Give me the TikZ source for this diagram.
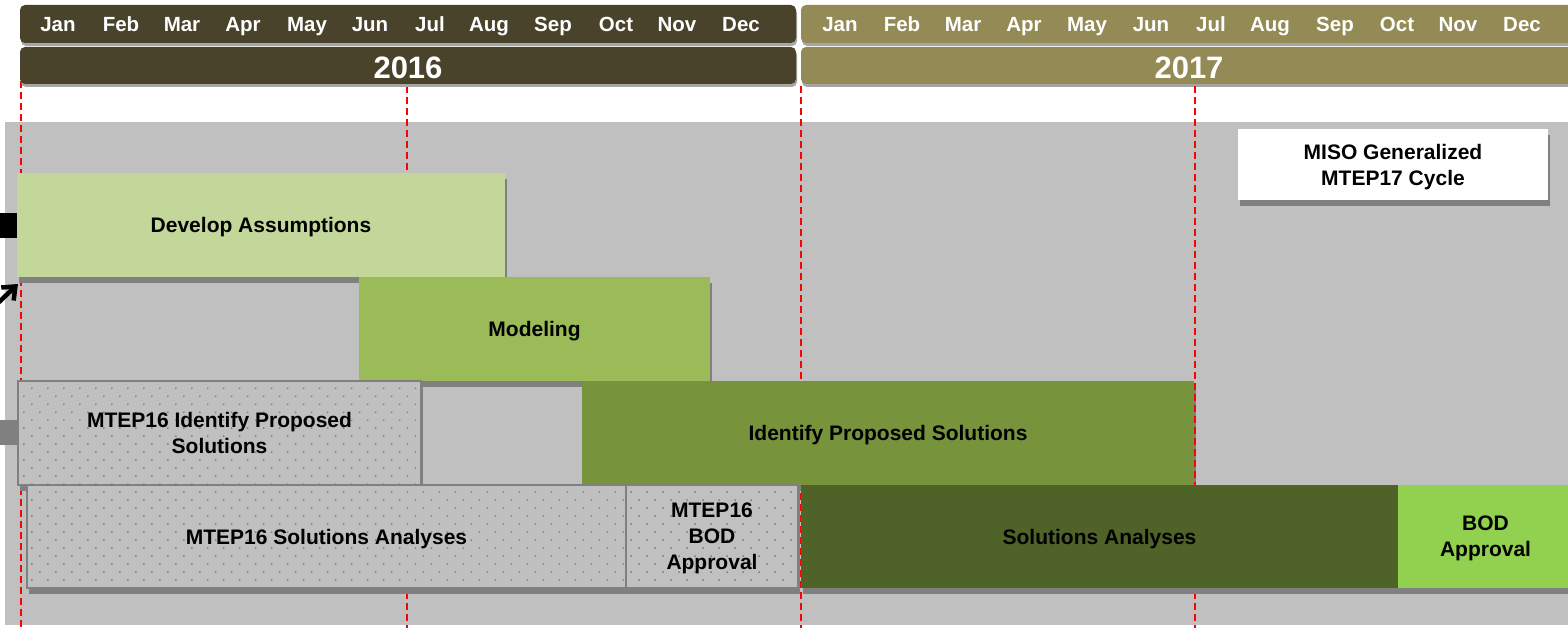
\documentclass[tikz,border=0pt]{standalone}
\usepackage{fontspec}
\setmainfont{Liberation Sans}
\usetikzlibrary{shadows,patterns.meta,arrows.meta}
\definecolor{bgray}{HTML}{C0C0C0}
\definecolor{dgray}{HTML}{808080}
\definecolor{hgray}{HTML}{A6A6A6}
\definecolor{csixteen}{HTML}{4A432B}
\definecolor{cseventeen}{HTML}{948A55}
\definecolor{cdev}{HTML}{C4D79B}
\definecolor{cmod}{HTML}{9BBB59}
\definecolor{cips}{HTML}{77933C}
\definecolor{csa}{HTML}{4F6228}
\definecolor{cbod}{HTML}{92D050}
\definecolor{cred}{HTML}{FF0000}
\begin{document}
\begin{tikzpicture}[x=1pt,y=-1pt,
  box/.style={anchor=north west, inner sep=0pt, outer sep=0pt, align=center, text depth=0pt,
    font=\bfseries\fontsize{21}{26}\selectfont,
    general shadow={fill=dgray, shadow xshift=2pt, shadow yshift=-6pt}},
  dotbox/.style={box, fill=bgray, draw=dgray, line width=1.5pt,
    postaction={pattern={Dots[distance=11.3pt, angle=45, radius=1.05pt]}, pattern color=dgray}},
  hdrbar/.style={anchor=north west, inner sep=0pt, outer sep=0pt, rounded corners=5pt,
    general shadow={fill=hgray, shadow xshift=1pt, shadow yshift=-3pt}},
  month/.style={anchor=base, inner sep=0pt, text=white, font=\bfseries\fontsize{20.5}{24}\selectfont},
  year/.style={anchor=base, inner sep=0pt, text=white, font=\bfseries\fontsize{31}{36}\selectfont},
  redline/.style={draw=cred, line width=1.6pt, dash pattern=on 7pt off 4pt},
  sq/.style={anchor=north west, inner sep=0pt, outer sep=0pt, minimum width=17pt, minimum height=25pt}
]
\useasboundingbox (0,0) rectangle (1568,628);
\clip (0,0) rectangle (1568,628);
\fill[white] (0,0) rectangle (1568,628);

% background panel
\node[anchor=north west, inner sep=0pt, outer sep=0pt, fill=bgray,
  minimum width=1563pt, minimum height=503pt] (bg) at (5,122) {};

% red dashed month markers
\foreach \n/\x/\t in {a/21/70, b/407/86, c/801/86, d/1195/86} {
  \coordinate (r\n t) at (\x,\t);
  \coordinate (r\n b) at (\x,628);
  \draw[redline] (r\n t) -- (r\n b);
}

% header bars
\node[hdrbar, fill=csixteen, minimum width=776pt, minimum height=38pt] (mbar16) at (20,5) {};
\node[hdrbar, fill=csixteen, minimum width=776pt, minimum height=37pt] (ybar16) at (20,47) {};
\node[hdrbar, fill=cseventeen, minimum width=790pt, minimum height=38pt] (mbar17) at (801,5) {};
\node[hdrbar, fill=cseventeen, minimum width=790pt, minimum height=37pt] (ybar17) at (801,47) {};

\foreach \m/\x [count=\i] in {Jan/58,Feb/121,Mar/182,Apr/243,May/307,Jun/370,Jul/430,Aug/489,Sep/553,Oct/616,Nov/677,Dec/741}
  \node[month] (ma\i) at (\x,32) {\m};
\foreach \m/\x [count=\i] in {Jan/840,Feb/902,Mar/963,Apr/1024,May/1087,Jun/1151,Jul/1211,Aug/1270,Sep/1335,Oct/1397,Nov/1458,Dec/1522}
  \node[month] (mb\i) at (\x,32) {\m};
\node[year] (y16) at (408,79) {2016};
\node[year] (y17) at (1189,79) {2017};

% left markers
\node[sq, fill=black] (blk) at (0,213) {};
\node[sq, fill=dgray] (gsq) at (0,420) {};

% activity boxes
\node[box, fill=white, minimum width=310pt, minimum height=71pt] (miso) at (1238,129) {MISO Generalized\\MTEP17 Cycle};
\node[box, fill=cdev, minimum width=488pt, minimum height=104pt] (dev) at (17,173) {Develop Assumptions};
\node[box, fill=cmod, minimum width=351pt, minimum height=104pt] (mod) at (359,277) {Modeling};
\node[dotbox, minimum width=403pt, minimum height=104pt] (mips) at (18,381) {MTEP16 Identify Proposed\\Solutions};
\node[box, fill=cips, minimum width=612pt, minimum height=104pt,
  general shadow={fill=dgray, shadow xshift=0pt, shadow yshift=-6pt}] (ips) at (582,381) {Identify Proposed Solutions};
% the July 2017 marker shows over the edge of the box
\draw[redline] (rdt) -- (rdb);
\node[dotbox, minimum width=599pt, minimum height=103pt] (msa) at (27,485) {MTEP16 Solutions Analyses};
\node[dotbox, minimum width=172pt, minimum height=103pt] (mbod) at (626,485) {MTEP16\\BOD\\Approval};
\node[box, fill=csa, minimum width=597pt, minimum height=103pt] (sa) at (801,485) {Solutions Analyses};
\node[box, fill=cbod, minimum width=175pt, minimum height=103pt] (bod) at (1398,485) {BOD\\Approval};

% arrow
\coordinate (arrs) at (-2,303);
\coordinate (arre) at (18,284);
\draw[line width=4.5pt, -{Straight Barb[length=11pt, width=18pt]}] (arrs) -- (arre);
\end{tikzpicture}
\end{document}
